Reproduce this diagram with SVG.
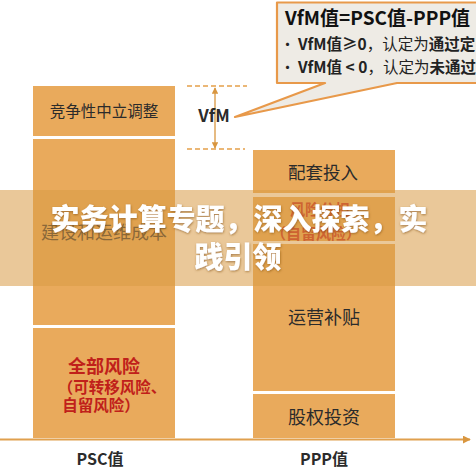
<svg xmlns="http://www.w3.org/2000/svg" width="476" height="476" viewBox="0 0 476 476">
<defs>
<style>
.blk{fill:#e9aa5c}
.t{font-family:"Noto Sans CJK SC","Noto Sans",sans-serif;text-anchor:middle;fill:#2b2b2b}
.red{fill:#c0201a;font-weight:bold}
.b{font-weight:bold}
.dash{stroke:#e5a04a;stroke-width:1.5;stroke-dasharray:5 3;fill:none}
.ttl{font-family:"Noto Sans CJK SC",sans-serif;font-weight:900;font-size:29px;fill:#ffffff;text-anchor:middle}
</style>
<marker id="ah" viewBox="0 0 10 10" refX="9" refY="5" markerWidth="5" markerHeight="5" orient="auto-start-reverse">
<path d="M0,0 L10,5 L0,10 Z" fill="#d9963f"/>
</marker>
<marker id="ax" viewBox="0 0 10 10" refX="9" refY="5" markerWidth="4" markerHeight="4" orient="auto">
<path d="M0,0 L10,5 L0,10 Z" fill="#d9963f"/>
</marker>
<filter id="sh" x="-10%" y="-30%" width="120%" height="160%">
<feDropShadow dx="0.5" dy="1" stdDeviation="1" flood-color="#7a4a10" flood-opacity="0.6"/>
</filter>
</defs>
<rect width="476" height="476" fill="#ffffff"/>

<g id="psc-adjust">
<rect class="blk" x="33" y="86" width="142" height="50"/>
<text class="t" x="104" y="117" font-size="15.5">竞争性中立调整</text>
</g>
<g id="psc-cost">
<rect class="blk" x="33" y="139" width="142" height="186"/>
<text class="t" x="104" y="239" font-size="18" fill="#444">建设和运维成本</text>
</g>
<g id="psc-risk">
<rect class="blk" x="33" y="328" width="142" height="110"/>
<text class="t red" x="104" y="373" font-size="18">全部风险</text>
<text class="t red" x="112" y="393" font-size="15.5">（可转移风险、</text>
<text class="t red" x="101" y="411" font-size="15.5">自留风险）</text>
</g>

<g id="ppp-support">
<rect class="blk" x="253" y="150" width="142" height="43"/>
<text class="t" x="323" y="179" font-size="17.5">配套投入</text>
</g>
<g id="ppp-risk">
<rect class="blk" x="253" y="197" width="142" height="44"/>
<text class="t red" x="320" y="215" font-size="15">风险分担</text>
<text class="t red" x="316" y="239" font-size="15">（自留风险）</text>
</g>
<g id="ppp-subsidy">
<rect class="blk" x="253" y="244" width="142" height="147"/>
<text class="t" x="324" y="324" font-size="18">运营补贴</text>
</g>
<g id="ppp-equity">
<rect class="blk" x="253" y="394" width="142" height="44"/>
<text class="t" x="324" y="424" font-size="18">股权投资</text>
</g>

<g id="connectors">
<line x1="0" y1="439.5" x2="470" y2="439.5" stroke="#e0a04e" stroke-width="2" marker-end="url(#ax)"/>
<line class="dash" x1="187" y1="86" x2="247" y2="86"/>
<line class="dash" x1="187" y1="149" x2="245" y2="149"/>
<line x1="215" y1="88" x2="215" y2="148" stroke="#d9963f" stroke-width="1.3" marker-start="url(#ah)" marker-end="url(#ah)"/>
</g>

<g id="vfm-label">
<text class="t b" x="214" y="122" font-size="17" fill="#111">VfM</text>
</g>

<g id="callout">
<path d="M277,2.5 H480 V83 H397 L235,117 L325,83 H277 Z" fill="#eeebe5" stroke="#e8994a" stroke-width="2.2" stroke-linejoin="round"/>
<text x="285" y="25" font-family="Noto Sans CJK SC,sans-serif" font-size="19" font-weight="bold" fill="#111">VfM值=PSC值-PPP值</text>
<text x="280" y="50" font-family="Noto Sans CJK SC,sans-serif" font-size="15" fill="#222">•</text>
<text x="298" y="50" font-family="Noto Sans CJK SC,sans-serif" font-size="15.5" fill="#222"><tspan font-weight="bold">VfM值≥0</tspan>，认定为<tspan font-weight="bold">通过定</tspan></text>
<text x="280" y="73" font-family="Noto Sans CJK SC,sans-serif" font-size="15" fill="#222">•</text>
<text x="298" y="73" font-family="Noto Sans CJK SC,sans-serif" font-size="15.5" fill="#222"><tspan font-weight="bold">VfM值 &lt; 0</tspan>，认定为<tspan font-weight="bold">未通过</tspan></text>
</g>

<g id="axis-labels">
<text class="t b" x="100" y="465" font-size="16" fill="#111">PSC值</text>
<text class="t b" x="324" y="465" font-size="16" fill="#111">PPP值</text>
</g>

<g id="banner">
<rect x="0" y="190" width="476" height="96" fill="#d99b45" opacity="0.55"/>
<text class="ttl" x="239" y="230" filter="url(#sh)">实务计算专题，深入探索，实</text>
<text class="ttl" x="238" y="268" filter="url(#sh)">践引领</text>
</g>
</svg>
